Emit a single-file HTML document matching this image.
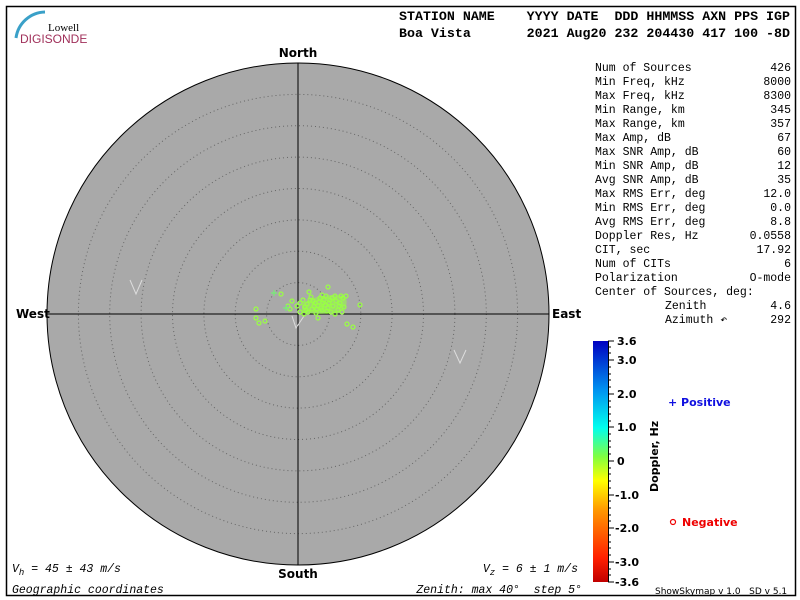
<!DOCTYPE html>
<html><head><meta charset="utf-8"><style>
body{margin:0;background:#fff;width:800px;height:600px;overflow:hidden}
svg{display:block}
.m{font-family:"Liberation Mono",monospace;font-size:11.5px;fill:#000}
.h{font-family:"Liberation Mono",monospace;font-size:13.3px;font-weight:bold;fill:#000}
.d{font-family:"DejaVu Sans","Liberation Sans",sans-serif;font-size:12px;font-weight:bold;fill:#000}
.c{font-family:"DejaVu Sans",sans-serif;font-size:11px;font-weight:bold;fill:#000}
</style></head><body>
<svg width="800" height="600" viewBox="0 0 800 600">
<defs><linearGradient id="g" x1="0" y1="1" x2="0" y2="0">
<stop offset="0" stop-color="#c00000"/><stop offset="0.1" stop-color="#ff2000"/><stop offset="0.3" stop-color="#ff9900"/><stop offset="0.42" stop-color="#ffff00"/><stop offset="0.52" stop-color="#80ff40"/><stop offset="0.64" stop-color="#00ffee"/><stop offset="0.8" stop-color="#0090f0"/><stop offset="1" stop-color="#0000c0"/></linearGradient></defs>
<rect x="6.5" y="6.5" width="789" height="589" fill="none" stroke="#000" stroke-width="1.5"/>
<path d="M16 38 A30 30 0 0 1 45 12" stroke="#3aa0c8" stroke-width="3" fill="none"/>
<text x="48" y="31" font-family="Liberation Serif,serif" font-size="11" fill="#000">Lowell</text>
<text x="20" y="43" font-family="Liberation Sans,sans-serif" font-size="12" fill="#a0305a">DIGISONDE</text>
<text class="h" x="399" y="20" xml:space="preserve">STATION NAME    YYYY DATE  DDD HHMMSS AXN PPS IGP</text>
<text class="h" x="399" y="37" xml:space="preserve">Boa Vista       2021 Aug20 232 204430 417 100 -8D</text>
<circle cx="298" cy="314" r="251" fill="#a9a9a9" stroke="#000"/>
<g fill="none" stroke="#666" stroke-dasharray="1 3">
<circle cx="298" cy="314" r="31.4"/><circle cx="298" cy="314" r="62.8"/><circle cx="298" cy="314" r="94.1"/><circle cx="298" cy="314" r="125.5"/><circle cx="298" cy="314" r="156.9"/><circle cx="298" cy="314" r="188.3"/><circle cx="298" cy="314" r="219.6"/></g>
<line x1="47" y1="314" x2="549" y2="314" stroke="#000"/><line x1="298" y1="63" x2="298" y2="565" stroke="#000"/>
<g stroke="#ddd" fill="none"><path d="M130 280 L136 294 L142 280"/><path d="M454 350 L460 363 L466 350"/><path d="M292 316 L296 328 L304 316"/></g>
<text class="d" x="298" y="57" text-anchor="middle">North</text>
<text class="d" x="298" y="578" text-anchor="middle">South</text>
<text class="d" x="16" y="318">West</text>
<text class="d" x="552" y="318">East</text>
<path d="M302 304 Q320 292 345 296 Q350 306 340 312 Q320 316 302 312 Z" fill="#9f4" opacity="0.55"/>
<g fill="none" stroke="#9f4" stroke-width="1.2">
<circle cx="310" cy="300" r="2"/><circle cx="315" cy="303" r="2"/><circle cx="320" cy="298" r="2"/><circle cx="325" cy="305" r="2"/><circle cx="330" cy="300" r="2"/><circle cx="335" cy="296" r="2"/><circle cx="340" cy="303" r="2"/><circle cx="305" cy="307" r="2"/><circle cx="312" cy="309" r="2"/><circle cx="318" cy="306" r="2"/><circle cx="322" cy="310" r="2"/><circle cx="328" cy="308" r="2"/><circle cx="333" cy="306" r="2"/><circle cx="338" cy="310" r="2"/><circle cx="343" cy="298" r="2"/><circle cx="300" cy="303" r="2"/><circle cx="308" cy="312" r="2"/><circle cx="316" cy="313" r="2"/><circle cx="326" cy="296" r="2"/><circle cx="331" cy="312" r="2"/><circle cx="336" cy="301" r="2"/><circle cx="344" cy="307" r="2"/><circle cx="311" cy="297" r="2"/><circle cx="303" cy="300" r="2"/><circle cx="319" cy="302" r="2"/><circle cx="324" cy="300" r="2"/><circle cx="329" cy="303" r="2"/><circle cx="314" cy="306" r="2"/><circle cx="321" cy="308" r="2"/><circle cx="307" cy="304" r="2"/><circle cx="297" cy="306" r="2"/><circle cx="292" cy="301" r="2"/><circle cx="281" cy="294" r="2"/><circle cx="256" cy="309" r="2"/><circle cx="256" cy="318" r="2"/><circle cx="259" cy="323" r="2"/><circle cx="265" cy="321" r="2"/><circle cx="309" cy="292" r="2"/><circle cx="328" cy="287" r="2"/><circle cx="346" cy="296" r="2"/><circle cx="360" cy="305" r="2"/><circle cx="347" cy="324" r="2"/><circle cx="353" cy="327" r="2"/><circle cx="318" cy="318" r="2"/><circle cx="335" cy="314" r="2"/><circle cx="290" cy="309" r="2"/><circle cx="300" cy="312" r="2"/><circle cx="342" cy="312" r="2"/><circle cx="288" cy="306" r="2"/>
<circle cx="313" cy="301" r="2"/><circle cx="317" cy="309" r="2"/><circle cx="323" cy="303" r="2"/><circle cx="327" cy="311" r="2"/><circle cx="332" cy="298" r="2"/><circle cx="339" cy="306" r="2"/><circle cx="306" cy="310" r="2"/><circle cx="341" cy="296" r="2"/><circle cx="304" cy="314" r="2"/><circle cx="322" cy="295" r="2"/></g>
<g stroke="#7e7" stroke-width="1.2"><path d="M271 293h6M274 290v6M283 308h6M286 305v6"/></g>
<text class="m" x="12" y="572" font-style="italic" xml:space="preserve">V<tspan font-size="9" dy="3">h</tspan><tspan dy="-3"> = 45 ± 43 m/s</tspan></text>
<text class="m" x="12" y="593" font-style="italic">Geographic coordinates</text>
<text class="m" x="578" y="572" font-style="italic" text-anchor="end" xml:space="preserve">V<tspan font-size="9" dy="3">z</tspan><tspan dy="-3"> = 6 ± 1 m/s</tspan></text>
<text class="m" x="582" y="593" font-style="italic" text-anchor="end" xml:space="preserve">Zenith: max 40°  step 5°</text>
<g class="m">
<text x="595" y="71">Num of Sources</text><text x="791" y="71" text-anchor="end">426</text>
<text x="595" y="85">Min Freq, kHz</text><text x="791" y="85" text-anchor="end">8000</text>
<text x="595" y="99">Max Freq, kHz</text><text x="791" y="99" text-anchor="end">8300</text>
<text x="595" y="113">Min Range, km</text><text x="791" y="113" text-anchor="end">345</text>
<text x="595" y="127">Max Range, km</text><text x="791" y="127" text-anchor="end">357</text>
<text x="595" y="141">Max Amp, dB</text><text x="791" y="141" text-anchor="end">67</text>
<text x="595" y="155">Max SNR Amp, dB</text><text x="791" y="155" text-anchor="end">60</text>
<text x="595" y="169">Min SNR Amp, dB</text><text x="791" y="169" text-anchor="end">12</text>
<text x="595" y="183">Avg SNR Amp, dB</text><text x="791" y="183" text-anchor="end">35</text>
<text x="595" y="197">Max RMS Err, deg</text><text x="791" y="197" text-anchor="end">12.0</text>
<text x="595" y="211">Min RMS Err, deg</text><text x="791" y="211" text-anchor="end">0.0</text>
<text x="595" y="225">Avg RMS Err, deg</text><text x="791" y="225" text-anchor="end">8.8</text>
<text x="595" y="239">Doppler Res, Hz</text><text x="791" y="239" text-anchor="end">0.0558</text>
<text x="595" y="253">CIT, sec</text><text x="791" y="253" text-anchor="end">17.92</text>
<text x="595" y="267">Num of CITs</text><text x="791" y="267" text-anchor="end">6</text>
<text x="595" y="281">Polarization</text><text x="791" y="281" text-anchor="end">O-mode</text>
<text x="595" y="295">Center of Sources, deg:</text>
<text x="665" y="309">Zenith</text><text x="791" y="309" text-anchor="end">4.6</text>
<text x="665" y="323">Azimuth ↶</text><text x="791" y="323" text-anchor="end">292</text>
</g>
<rect x="593" y="341" width="15" height="241" fill="url(#g)"/>
<line x1="608.5" y1="341" x2="608.5" y2="582" stroke="#000"/>
<g stroke="#000">
<path d="M608 341h6M608 360h6M608 394h6M608 427h6M608 461h6M608 495h6M608 528h6M608 562h6M608 582h6"/>
<path d="M608 347h3M608 353h3M608 367h3M608 374h3M608 380h3M608 387h3M608 401h3M608 407h3M608 414h3M608 421h3M608 434h3M608 441h3M608 447h3M608 454h3M608 468h3M608 474h3M608 481h3M608 488h3M608 501h3M608 508h3M608 515h3M608 521h3M608 535h3M608 542h3M608 548h3M608 555h3M608 569h3M608 575h3"/></g>
<g class="c">
<text x="617" y="345">3.6</text><text x="617" y="364">3.0</text><text x="617" y="398">2.0</text><text x="617" y="431">1.0</text><text x="617" y="465">0</text><text x="615" y="499">-1.0</text><text x="615" y="532">-2.0</text><text x="615" y="566">-3.0</text><text x="615" y="586">-3.6</text></g>
<text class="c" font-size="10" transform="translate(658,492) rotate(-90)">Doppler, Hz</text>
<text x="668" y="406" font-family="DejaVu Sans,sans-serif" font-size="11" font-weight="bold" fill="#1010e0">+ Positive</text>
<circle cx="673" cy="522" r="2.5" fill="none" stroke="#e00" stroke-width="1.2"/>
<text x="682" y="526" font-family="DejaVu Sans,sans-serif" font-size="11" font-weight="bold" fill="#e00">Negative</text>
<text x="655" y="594" font-family="DejaVu Sans,sans-serif" font-size="9" fill="#000" xml:space="preserve">ShowSkymap v 1.0   SD v 5.1</text>
</svg>
</body></html>
